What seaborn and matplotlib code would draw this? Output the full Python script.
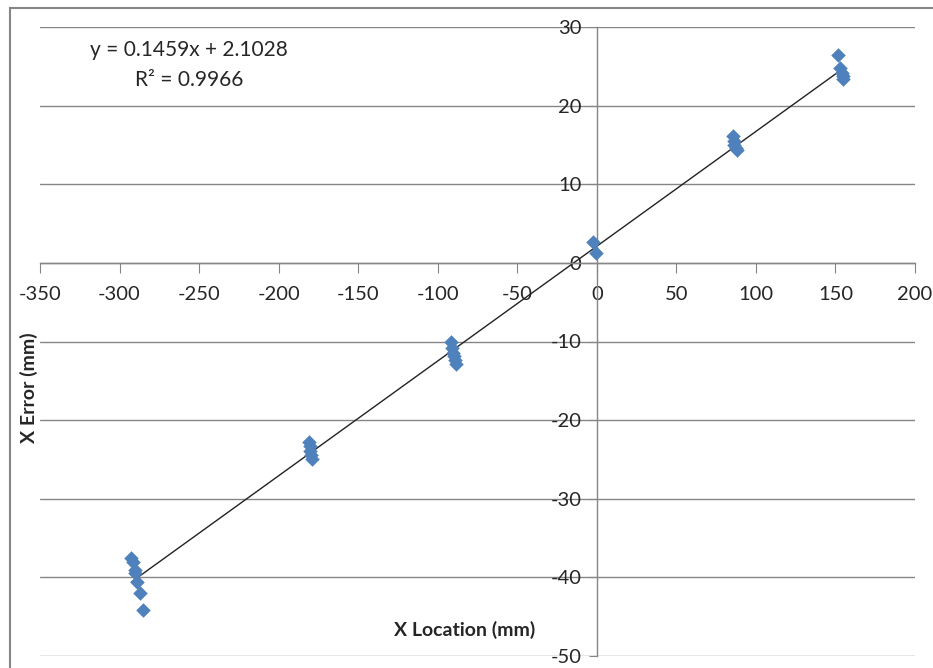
import numpy as np
import pandas as pd
import seaborn as sns
import matplotlib.pyplot as plt
from matplotlib.patches import Rectangle

# data
x_loc = [-292.5, -291.5, -290.5, -290.5, -289, -287.2, -285.5,
         -181, -180.5, -180, -179.5, -179,
         -91.5, -91, -90.5, -89.5, -89, -88.5,
         -2.5, -0.5,
         85.5, 86, 86.5, 87.5, 88,
         151.5, 153, 154, 155, 155]
x_err = [-37.5, -38, -39, -39.5, -40.6, -42, -44.1,
         -22.8, -23.3, -23.9, -24.4, -25,
         -10, -10.8, -11.4, -11.9, -12.4, -12.8,
         2.6, 1.3,
         16.1, 15.5, 15, 14.6, 14.3,
         26.4, 24.8, 24.2, 23.8, 23.4]
eq_text = "y = 0.1459x + 2.1028"
r2_text = "R² = 0.9966"

x_ticks = list(range(-350, 201, 50))
y_ticks = list(range(-50, 31, 10))

df = pd.DataFrame({"x": x_loc, "y": x_err})

sns.set_style("white")
plt.rcParams['font.family'] = ['Lato', 'DejaVu Sans']
plt.rcParams['axes.unicode_minus'] = False

grid_col = "#868686"
blue = "#4F81BD"

fig = plt.figure(figsize=(9.33, 6.68), dpi=100)
ax = fig.add_axes([40 / 933, 1 - 656 / 668, 875 / 933, 629 / 668])

# outer chart frame (only left and top edges fall inside the image)
top = 1 - 8 / 668
fig.add_artist(Rectangle((10 / 933, -0.5), 2, top + 0.5, transform=fig.transFigure,
                         fill=False, edgecolor=grid_col, lw=1.5))

sns.regplot(data=df, x="x", y="y", scatter=False, ci=None, ax=ax,
            line_kws=dict(color="#222222", lw=1))
sns.scatterplot(data=df, x="x", y="y", marker="D", s=55, color=blue,
                edgecolor=blue, linewidth=0, ax=ax, zorder=3)

ax.set_xlim(-350, 200)
ax.set_ylim(-50, 30)
ax.set_xticks(x_ticks)
ax.set_yticks(y_ticks)
ax.yaxis.grid(True, color=grid_col, lw=1)
ax.xaxis.grid(False)
ax.set_axisbelow(True)

for s in ["top", "right"]:
    ax.spines[s].set_visible(False)
ax.spines["left"].set_position(("data", 0))
ax.spines["bottom"].set_position(("data", 0))
for s in ["left", "bottom"]:
    ax.spines[s].set_color(grid_col)
    ax.spines[s].set_linewidth(1)

ax.tick_params(axis="x", direction="out", length=7, color=grid_col,
               labelsize=14.5, pad=10, bottom=True)
ax.tick_params(axis="y", direction="out", length=6, color=grid_col,
               labelsize=14.5, pad=5, left=True)

ax.set_xlabel("X Location (mm)", fontsize=14, fontweight="bold")
ax.xaxis.set_label_coords((465 - 40) / 875, (656 - 630) / 629)
ax.xaxis.label.set_va("center")
ax.set_ylabel("X Error (mm)", fontsize=14, fontweight="bold")
ax.yaxis.set_label_coords((29 - 40) / 875, (656 - 388) / 629)
ax.yaxis.label.set_va("center")

fig.text(189 / 933, 1 - 50 / 668, eq_text, ha="center", va="center", fontsize=15)
fig.text(189 / 933, 1 - 80 / 668, r2_text, ha="center", va="center", fontsize=15)

fig.savefig("out.png", dpi=100)
